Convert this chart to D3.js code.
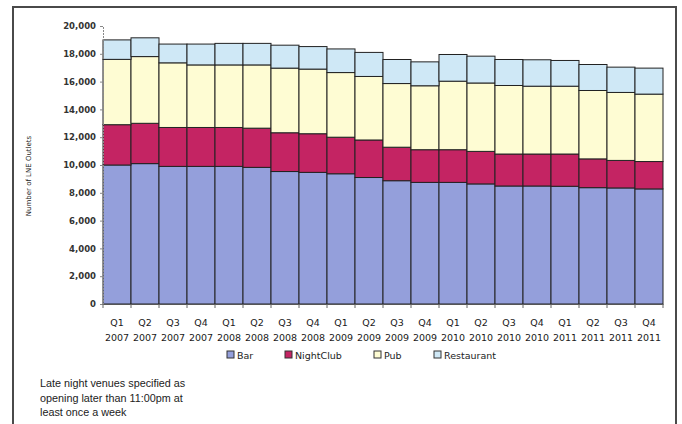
<!DOCTYPE html>
<html><head><meta charset="utf-8">
<script src="https://cdn.jsdelivr.net/npm/d3@7"></script>
<style>body{margin:0;background:#fff}svg{display:block}</style>
</head><body>
<svg id="c" width="682" height="424"></svg>
<script>
const quarters = ["Q1","Q2","Q3","Q4","Q1","Q2","Q3","Q4","Q1","Q2","Q3","Q4","Q1","Q2","Q3","Q4","Q1","Q2","Q3","Q4"];
const years = ["2007","2007","2007","2007","2008","2008","2008","2008","2009","2009","2009","2009","2010","2010","2010","2010","2011","2011","2011","2011"];
const bar = [10000,10100,9900,9900,9900,9830,9530,9470,9370,9100,8870,8750,8750,8640,8490,8490,8470,8370,8350,8280];
const nightClub = [2900,2900,2800,2800,2800,2820,2790,2780,2630,2700,2410,2350,2350,2340,2300,2300,2320,2070,1980,1970];
const pub = [4700,4800,4650,4500,4500,4550,4650,4650,4650,4570,4580,4600,4930,4920,4930,4880,4880,4920,4890,4850];
const restaurant = [1400,1350,1350,1500,1550,1550,1650,1620,1700,1730,1730,1720,1920,1930,1870,1900,1850,1870,1820,1870];
const seriesNames = ["Bar","NightClub","Pub","Restaurant"];
const colors = ["#949fdb","#c42463","#fefcd3","#cfe8f6"];
const yTicks = [0,2000,4000,6000,8000,10000,12000,14000,16000,18000,20000];
const yTitle = "Number of LNE Outlets";
const note = ["Late night venues specified as","opening later than 11:00pm at","least once a week"];

const svg = d3.select("#c");
const cats = quarters.map((q,i)=>q+" "+years[i]+"#"+i);
const rows = cats.map((c,i)=>({cat:c,Bar:bar[i],NightClub:nightClub[i],Pub:pub[i],Restaurant:restaurant[i]}));
const x = d3.scaleBand().domain(cats).range([103,663]).padding(0);
const y = d3.scaleLinear().domain([0,20000]).range([304,26]);

// frame
svg.append("rect").attr("x",13).attr("y",7).attr("width",663).attr("height",430)
  .attr("fill","none").attr("stroke","#4a4a4a").attr("stroke-width",2);

const stack = d3.stack().keys(seriesNames)(rows);
svg.append("g").selectAll("g").data(stack).join("g")
  .attr("fill",(d,i)=>colors[i])
  .selectAll("rect").data(d=>d).join("rect")
  .attr("x",d=>x(d.data.cat)).attr("width",x.bandwidth())
  .attr("y",d=>y(d[1])).attr("height",d=>y(d[0])-y(d[1]))
  .attr("stroke","#222").attr("stroke-width",1);

// y axis
const ya = svg.append("g").attr("transform","translate(103,0)")
  .call(d3.axisLeft(y).tickValues(yTicks).tickSize(3).tickFormat(d3.format(",")));
ya.select(".domain").attr("stroke","#888").attr("stroke-dasharray","2,1");
ya.selectAll(".tick line").attr("stroke","#888");
ya.selectAll("text").attr("font-family","DejaVu Sans").attr("font-weight","bold")
  .attr("font-size","8.5px").attr("fill","#333").attr("x",-7);

// x axis
const xa = svg.append("g").attr("transform","translate(0,304)")
  .call(d3.axisBottom(x).tickSize(0).tickFormat(""));
xa.select(".domain").attr("stroke","#555");
svg.append("g").selectAll("line").data(cats).join("line")
  .attr("x1",d=>x(d)).attr("x2",d=>x(d)).attr("y1",304).attr("y2",308).attr("stroke","#666");
svg.append("line").attr("x1",663).attr("x2",663).attr("y1",304).attr("y2",308).attr("stroke","#666");
const xl = svg.append("g").selectAll("text").data(cats).join("text")
  .attr("x",d=>x(d)+x.bandwidth()/2).attr("text-anchor","middle")
  .attr("font-family","DejaVu Sans").attr("font-size","9.5px").attr("fill","#1a1a1a");
xl.append("tspan").attr("x",d=>x(d)+x.bandwidth()/2).attr("y",326).text((d,i)=>quarters[i]);
xl.append("tspan").attr("x",d=>x(d)+x.bandwidth()/2).attr("y",341).text((d,i)=>years[i]);

// y title
svg.append("text").attr("transform","translate(31,176) rotate(-90)").attr("text-anchor","middle")
  .attr("font-family","DejaVu Sans").attr("font-size","7px").attr("fill","#222").text(yTitle);

// legend
const legX = [227,285,374,434];
const lg = svg.append("g").selectAll("g").data(seriesNames).join("g")
  .attr("transform",(d,i)=>`translate(${legX[i]},355)`);
lg.append("rect").attr("x",0).attr("y",-4).attr("width",7).attr("height",7)
  .attr("fill",(d,i)=>colors[i]).attr("stroke","#333").attr("stroke-width",1);
lg.append("text").attr("x",10).attr("y",3.5).attr("font-family","DejaVu Sans")
  .attr("font-size","9.5px").attr("fill","#222").text(d=>d);

// note
svg.append("g").selectAll("text").data(note).join("text")
  .attr("x",40).attr("y",(d,i)=>387+i*14.5).attr("font-family","Liberation Sans")
  .attr("font-size","10.8px").attr("fill","#222").text(d=>d);
</script>
</body></html>
